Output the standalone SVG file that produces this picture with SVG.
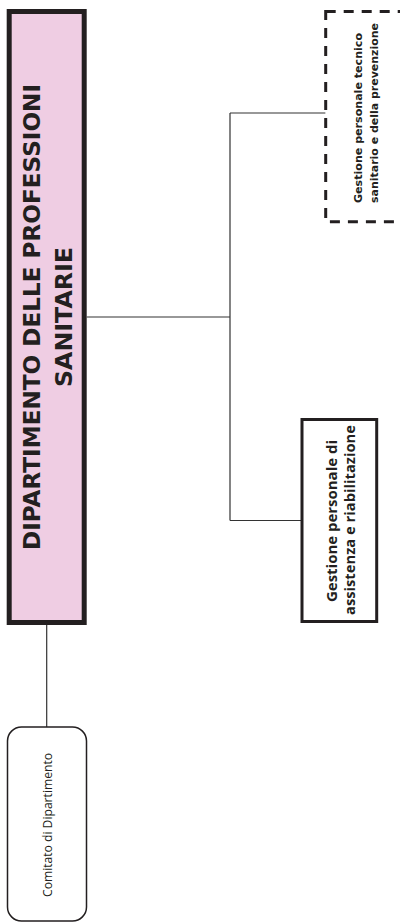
<svg xmlns="http://www.w3.org/2000/svg" width="400" height="924" viewBox="0 0 400 924">
<style>
.conn{fill:none;stroke:#333333;stroke-width:1.2}
.title{font-family:"DejaVu Sans",Verdana,sans-serif;font-weight:bold;font-size:23.5px;fill:#231f20}
.sub{font-family:"Open Sans","DejaVu Sans",sans-serif;font-weight:bold;fill:#231f20}
.sub2{font-family:"DejaVu Sans",Verdana,sans-serif;font-weight:bold;font-size:11px;fill:#231f20}
.reg{font-family:"Open Sans","DejaVu Sans",sans-serif;font-size:12px;fill:#231f20}
</style>
<rect width="400" height="924" fill="#ffffff"/>
<g id="connectors">
<path class="conn" d="M86.7 317 H230 M230 113 V520.5 M230 113 H325.5 M230 520.5 H302 M46.7 625 V727"/>
</g>
<g id="node-dipartimento">
<rect x="9.2" y="11.5" width="75" height="611" fill="#efcde3" stroke="#231f20" stroke-width="5"/>
<text class="title" text-anchor="middle" transform="translate(39.5 317) rotate(-90)" textLength="466" lengthAdjust="spacingAndGlyphs">DIPARTIMENTO DELLE PROFESSIONI</text>
<text class="title" text-anchor="middle" transform="translate(71.7 317) rotate(-90)" textLength="140" lengthAdjust="spacingAndGlyphs">SANITARIE</text>
</g>
<g id="node-tecnico">
<rect x="325.7" y="11.5" width="100" height="210.2" fill="#ffffff" stroke="#231f20" stroke-width="3" stroke-dasharray="10 8"/>
<text class="sub2" transform="translate(361.5 203) rotate(-90)" textLength="170" lengthAdjust="spacingAndGlyphs">Gestione personale tecnico</text>
<text class="sub2" transform="translate(378 203) rotate(-90)" textLength="180" lengthAdjust="spacingAndGlyphs">sanitario e della prevenzione</text>
</g>
<g id="node-assistenza">
<rect x="302" y="419.5" width="74.7" height="202" fill="#ffffff" stroke="#231f20" stroke-width="3"/>
<text class="sub" font-size="15" text-anchor="middle" transform="translate(336.5 521) rotate(-90)" textLength="162" lengthAdjust="spacingAndGlyphs">Gestione personale di</text>
<text class="sub" font-size="15" text-anchor="middle" transform="translate(354.5 520) rotate(-90)" textLength="190" lengthAdjust="spacingAndGlyphs">assistenza e riabilitazione</text>
</g>
<g id="node-comitato">
<rect x="7.5" y="727" width="79" height="194" rx="14" ry="14" fill="#ffffff" stroke="#231f20" stroke-width="1.5"/>
<text class="reg" text-anchor="middle" transform="translate(51.5 825) rotate(-90)" textLength="144" lengthAdjust="spacingAndGlyphs">Comitato di Dipartimento</text>
</g>
</svg>
